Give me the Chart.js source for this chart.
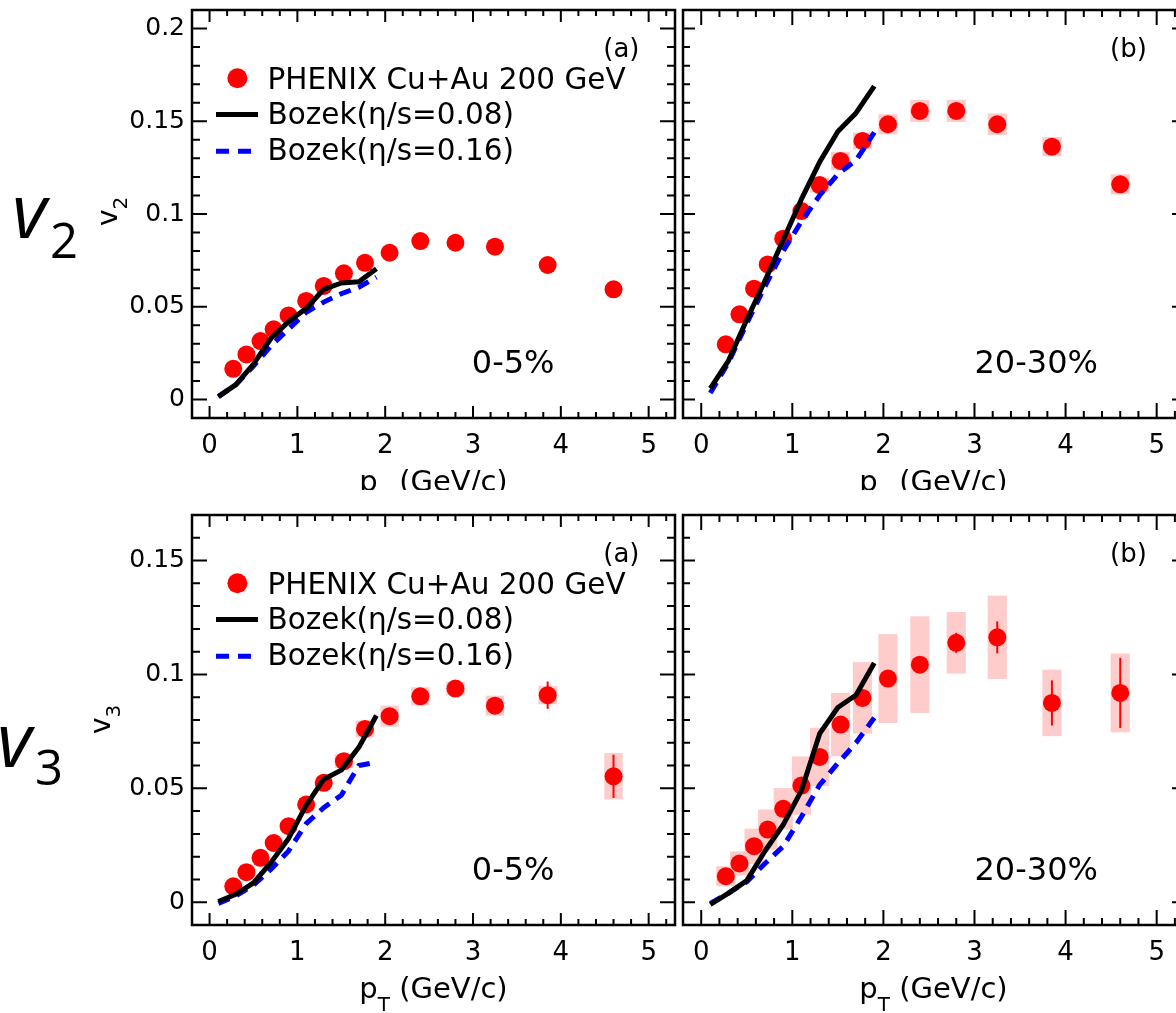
<!DOCTYPE html>
<html>
<head>
<meta charset="utf-8">
<title>PHENIX Cu+Au v2 and v3 vs pT</title>
<script src="https://cdn.jsdelivr.net/npm/chart.js@4.4.1/dist/chart.umd.min.js"></script>
<style>
  html, body { margin: 0; padding: 0; background: #fff; }
  body { position: relative; width: 1176px; height: 1013px; overflow: hidden; }
  canvas { position: absolute; }
</style>
</head>
<body>
<canvas id="v2cent" width="684" height="490" style="left:0px;top:0px"></canvas>
<canvas id="v2mid" width="530" height="490" style="left:670px;top:0px"></canvas>
<canvas id="v3cent" width="684" height="523" style="left:0px;top:490px"></canvas>
<canvas id="v3mid" width="530" height="523" style="left:670px;top:490px"></canvas>
<script>
// pT bins of the PHENIX points (GeV/c)
const ptBins = [0.27, 0.42, 0.58, 0.73, 0.9, 1.1, 1.3, 1.53, 1.77, 2.05, 2.4, 2.8, 3.25, 3.85, 4.6];
// pT grid on which the Bozek hydro curves were read
const modelPt = [0.1, 0.3, 0.5, 0.7, 0.9, 1.1, 1.3, 1.5, 1.7, 1.9];

const seriesLabels = ['PHENIX Cu+Au 200 GeV', 'Bozek(\u03b7/s=0.08)', 'Bozek(\u03b7/s=0.16)'];
const xTicks = [0, 1, 2, 3, 4, 5];
const v2Ticks = [0, 0.05, 0.1, 0.15, 0.2];
const v3Ticks = [0, 0.05, 0.1, 0.15];

// v2, 0-5%
const v2Cent = [0.0165, 0.0243, 0.0315, 0.0378, 0.0453, 0.0531, 0.0612, 0.068, 0.0737, 0.0791, 0.0854, 0.0845, 0.0824, 0.0725, 0.0594];
const v2CentBozek008 = [0.0015, 0.008, 0.019, 0.033, 0.042, 0.049, 0.0594, 0.0628, 0.0635, 0.0705];
const v2CentBozek016 = [0.0015, 0.008, 0.018, 0.029, 0.038, 0.047, 0.0525, 0.057, 0.0605, 0.066];

// v2, 20-30%
const v2Mid = [0.0297, 0.0459, 0.0597, 0.0728, 0.0867, 0.1016, 0.1156, 0.1286, 0.1394, 0.1484, 0.1556, 0.1556, 0.1484, 0.1363, 0.116];
const v2MidSys = [0, 0, 0, 0, 0, 0, 0.004, 0.005, 0.0045, 0.0054, 0.006, 0.006, 0.0058, 0.0052, 0.0054];
const v2MidBozek008 = [0.006, 0.021, 0.043, 0.064, 0.086, 0.108, 0.128, 0.1445, 0.1545, 0.169];
const v2MidBozek016 = [0.0035, 0.020, 0.041, 0.061, 0.080, 0.096, 0.110, 0.1215, 0.129, 0.144];

// v3, 0-5%
const v3Cent = [0.007, 0.0132, 0.0195, 0.026, 0.0334, 0.0429, 0.0524, 0.0619, 0.0761, 0.0817, 0.0904, 0.0938, 0.0863, 0.0909, 0.0553];
const v3CentSys = [0, 0, 0, 0, 0, 0, 0, 0.003, 0.0037, 0.0046, 0.004, 0.003, 0.0044, 0.004, 0.0102];
const v3CentStat = [0, 0, 0, 0, 0, 0, 0, 0, 0, 0, 0, 0, 0, 0.006, 0.0095];
const v3CentBozek008 = [0.0003, 0.0035, 0.0085, 0.0175, 0.028, 0.0425, 0.054, 0.058, 0.068, 0.082];
const v3CentBozek016 = [-0.0005, 0.0028, 0.0075, 0.0145, 0.0225, 0.0345, 0.0415, 0.047, 0.060, 0.0615];

// v3, 20-30%
const v3Mid = [0.0114, 0.017, 0.0246, 0.0319, 0.041, 0.0512, 0.0638, 0.078, 0.0897, 0.0982, 0.1043, 0.1139, 0.1163, 0.0875, 0.0919];
const v3MidSys = [0.0044, 0.0053, 0.0077, 0.0088, 0.0091, 0.0128, 0.0128, 0.0139, 0.0157, 0.0195, 0.0212, 0.0135, 0.0183, 0.0146, 0.0173];
const v3MidStat = [0, 0, 0, 0, 0, 0, 0, 0, 0, 0.002, 0.003, 0.0044, 0.007, 0.0099, 0.0154];
const v3MidBozek008 = [-0.001, 0.004, 0.0095, 0.0225, 0.034, 0.049, 0.074, 0.0855, 0.091, 0.105];
const v3MidBozek016 = [-0.0005, 0.004, 0.009, 0.017, 0.0245, 0.0375, 0.0515, 0.061, 0.070, 0.081];

const FONT = '"DejaVu Sans"';
const RED = '#ff0000', BLUE = '#0000ff', PINK = '#ffcccc';

// draws the ROOT-like frame, inward ticks, systematics boxes, labels and legend
function decor(p) {
  return {
    id: 'decor',
    beforeDatasetsDraw(chart) {
      const ctx = chart.ctx, xs = chart.scales.x, ys = chart.scales.y;
      ctx.save();
      ctx.fillStyle = PINK;
      if (p.sys) p.sys.forEach(function (s, i) {
        if (!s) return;
        const xl = xs.getPixelForValue(ptBins[i] - 0.105), xr = xs.getPixelForValue(ptBins[i] + 0.105);
        const yt = ys.getPixelForValue(p.values[i] + s), yb = ys.getPixelForValue(p.values[i] - s);
        ctx.fillRect(xl, yt, xr - xl, yb - yt);
      });
      ctx.strokeStyle = RED;
      ctx.lineWidth = 2;
      if (p.stat) p.stat.forEach(function (e, i) {
        if (!e) return;
        const px = xs.getPixelForValue(ptBins[i]);
        ctx.beginPath();
        ctx.moveTo(px, ys.getPixelForValue(p.values[i] + e));
        ctx.lineTo(px, ys.getPixelForValue(p.values[i] - e));
        ctx.stroke();
      });
      ctx.restore();
    },
    afterDatasetsDraw(chart) {
      const ctx = chart.ctx, xs = chart.scales.x, ys = chart.scales.y, a = chart.chartArea;
      const w = a.right - a.left;
      ctx.save();
      ctx.strokeStyle = '#000';
      ctx.lineWidth = 2;
      ctx.beginPath();
      // x ticks every 0.2, major every 1
      for (let k = Math.ceil(xs.min / 0.2 - 1e-6); k * 0.2 <= xs.max + 1e-6; k++) {
        const px = xs.getPixelForValue(k * 0.2);
        const len = k % 5 === 0 ? p.xTick[0] : p.xTick[1];
        ctx.moveTo(px, a.bottom); ctx.lineTo(px, a.bottom - len);
        ctx.moveTo(px, a.top); ctx.lineTo(px, a.top + len);
      }
      // y ticks every 0.01, major every 0.05
      for (let k = Math.ceil(ys.min / 0.01 - 1e-6); k * 0.01 <= ys.max + 1e-6; k++) {
        const py = ys.getPixelForValue(k * 0.01);
        const len = k % 5 === 0 ? p.yTick[0] : p.yTick[1];
        ctx.moveTo(a.left, py); ctx.lineTo(a.left + len, py);
        ctx.moveTo(a.right, py); ctx.lineTo(a.right - len, py);
      }
      ctx.stroke();
      ctx.lineWidth = 2.5;
      ctx.strokeRect(a.left, a.top, w, a.bottom - a.top);

      ctx.fillStyle = '#000';
      ctx.textBaseline = 'alphabetic';
      ctx.textAlign = 'center';
      ctx.font = '26px ' + FONT;
      ctx.fillText(p.tag, a.left + 0.889 * w, a.top + 46.6);
      ctx.font = '32px ' + FONT;
      ctx.fillText(p.cent, a.left + p.centX * w, a.bottom - 45);

      // x axis title, p_T (GeV/c)
      ctx.textAlign = 'left';
      ctx.font = '29px ' + FONT;
      const wp = ctx.measureText('p').width, wr = ctx.measureText(' (GeV/c)').width;
      ctx.font = '20px ' + FONT;
      const wt = ctx.measureText('T').width;
      const x0 = (a.left + a.right) / 2 - (wp + wt + wr) / 2, base = a.bottom + 73;
      ctx.fillText('T', x0 + wp, base + 13);
      ctx.font = '29px ' + FONT;
      ctx.fillText('p', x0, base);
      ctx.fillText(' (GeV/c)', x0 + wp + wt, base);

      if (p.legend) {
        const ds = chart.data.datasets;
        const rows = [a.top + 68.3, a.top + 104.5, a.top + 141.2];
        const bases = [a.top + 78.5, a.top + 114, a.top + 149.7];
        ctx.fillStyle = RED;
        ctx.beginPath();
        ctx.arc(a.left + 45.4, rows[0], 10, 0, Math.PI * 2);
        ctx.fill();
        ctx.lineWidth = 5;
        ctx.strokeStyle = ds[0].borderColor;
        ctx.beginPath(); ctx.moveTo(a.left + 24, rows[1]); ctx.lineTo(a.left + 66, rows[1]); ctx.stroke();
        ctx.strokeStyle = ds[1].borderColor;
        ctx.setLineDash([13, 9]);
        ctx.beginPath(); ctx.moveTo(a.left + 24, rows[2]); ctx.lineTo(a.left + 59, rows[2]); ctx.stroke();
        ctx.setLineDash([]);
        ctx.fillStyle = '#000';
        ctx.font = '29.5px ' + FONT;
        ctx.fillText(ds[2].label, a.left + 75.5, bases[0]);
        ctx.fillText(ds[0].label, a.left + 75.5, bases[1]);
        ctx.fillText(ds[1].label, a.left + 75.5, bases[2]);
      }

      if (p.harmonic) {
        // rotated axis title v_n
        ctx.save();
        ctx.translate(p.yTitle[0], p.yTitle[1]);
        ctx.rotate(-Math.PI / 2);
        ctx.font = '28px ' + FONT;
        ctx.fillText('v', 0, 0);
        const wv = ctx.measureText('v').width;
        ctx.font = '20px ' + FONT;
        ctx.fillText(p.harmonic, wv, 10);
        ctx.restore();
        // big row label at the far left
        ctx.font = 'italic 75px "Open Sans"';
        ctx.fillText('v', p.big[0], p.big[1]);
        ctx.font = '49px "Open Sans"';
        ctx.fillText(p.harmonic, p.big[2], p.big[3]);
      }
      ctx.restore();
    }
  };
}

function noPad(s) {
  s.paddingTop = 0; s.paddingBottom = 0; s.paddingLeft = 0; s.paddingRight = 0;
}

function drawPanel(p) {
  const markers = ptBins.map(function (x, i) { return { x: x, y: p.values[i] }; });
  const c008 = modelPt.map(function (x, i) { return { x: x, y: p.bozek008[i] }; });
  const c016 = modelPt.map(function (x, i) { return { x: x, y: p.bozek016[i] }; });
  return new Chart(document.getElementById(p.id), {
    type: 'scatter',
    data: {
      datasets: [
        { label: seriesLabels[1], data: c008, showLine: true, borderColor: '#000', borderWidth: 5,
          borderJoinStyle: 'round', pointRadius: 0, tension: 0 },
        { label: seriesLabels[2], data: c016, showLine: true, borderColor: BLUE, borderWidth: 5,
          borderDash: [12, 8], pointRadius: 0, tension: 0 },
        { label: seriesLabels[0], data: markers, showLine: false, pointRadius: 9,
          pointBackgroundColor: RED, pointBorderWidth: 0 }
      ]
    },
    options: {
      responsive: false,
      animation: false,
      events: [],
      layout: { padding: p.pad },
      plugins: { legend: { display: false }, tooltip: { enabled: false } },
      scales: {
        x: {
          type: 'linear', min: -0.2, max: 5.3,
          grid: { display: false, drawTicks: false }, border: { display: false },
          afterBuildTicks: function (s) { s.ticks = xTicks.map(function (v) { return { value: v }; }); },
          afterFit: function (s) { s.height = p.xAxisH; noPad(s); },
          ticks: { color: '#000', font: { family: 'DejaVu Sans', size: 26 }, padding: 13,
                   autoSkip: false, maxRotation: 0, callback: function (v) { return String(v); } }
        },
        y: {
          type: 'linear', min: -0.01, max: p.yMax,
          grid: { display: false, drawTicks: false }, border: { display: false },
          afterBuildTicks: function (s) { s.ticks = p.yTicks.map(function (v) { return { value: v }; }); },
          afterFit: function (s) { s.width = p.yAxisW; noPad(s); },
          ticks: { display: p.yLabels, color: '#000', font: { family: 'DejaVu Sans', size: 25 }, padding: 7,
                   callback: function (v) { return String(Math.round(v * 1000) / 1000); } }
        }
      }
    },
    plugins: [decor(p)]
  });
}

drawPanel({ id: 'v2cent', values: v2Cent, sys: null, stat: null,
  bozek008: v2CentBozek008, bozek016: v2CentBozek016, yMax: 0.21, yTicks: v2Ticks,
  pad: { left: 0, right: 1, top: 10, bottom: 0 }, yAxisW: 192, xAxisH: 72, yLabels: true,
  xTick: [12, 6], yTick: [15, 8], tag: '(a)', cent: '0-5%', centX: 0.665, legend: true,
  harmonic: '2', yTitle: [117, 226], big: [12, 238, 50, 258] });

drawPanel({ id: 'v2mid', values: v2Mid, sys: v2MidSys, stat: null,
  bozek008: v2MidBozek008, bozek016: v2MidBozek016, yMax: 0.21, yTicks: v2Ticks,
  pad: { left: 0, right: 16, top: 10, bottom: 0 }, yAxisW: 13, xAxisH: 72, yLabels: false,
  xTick: [15, 7], yTick: [12, 7], tag: '(b)', cent: '20-30%', centX: 0.705, legend: false,
  harmonic: null });

drawPanel({ id: 'v3cent', values: v3Cent, sys: v3CentSys, stat: v3CentStat,
  bozek008: v3CentBozek008, bozek016: v3CentBozek016, yMax: 0.17, yTicks: v3Ticks,
  pad: { left: 0, right: 1, top: 25, bottom: 0 }, yAxisW: 192, xAxisH: 88, yLabels: true,
  xTick: [12, 6], yTick: [15, 8], tag: '(a)', cent: '0-5%', centX: 0.665, legend: true,
  harmonic: '3', yTitle: [110, 244], big: [-3, 277, 35, 295] });

drawPanel({ id: 'v3mid', values: v3Mid, sys: v3MidSys, stat: v3MidStat,
  bozek008: v3MidBozek008, bozek016: v3MidBozek016, yMax: 0.17, yTicks: v3Ticks,
  pad: { left: 0, right: 16, top: 25, bottom: 0 }, yAxisW: 13, xAxisH: 88, yLabels: false,
  xTick: [15, 7], yTick: [12, 7], tag: '(b)', cent: '20-30%', centX: 0.705, legend: false,
  harmonic: null });
</script>
</body>
</html>
